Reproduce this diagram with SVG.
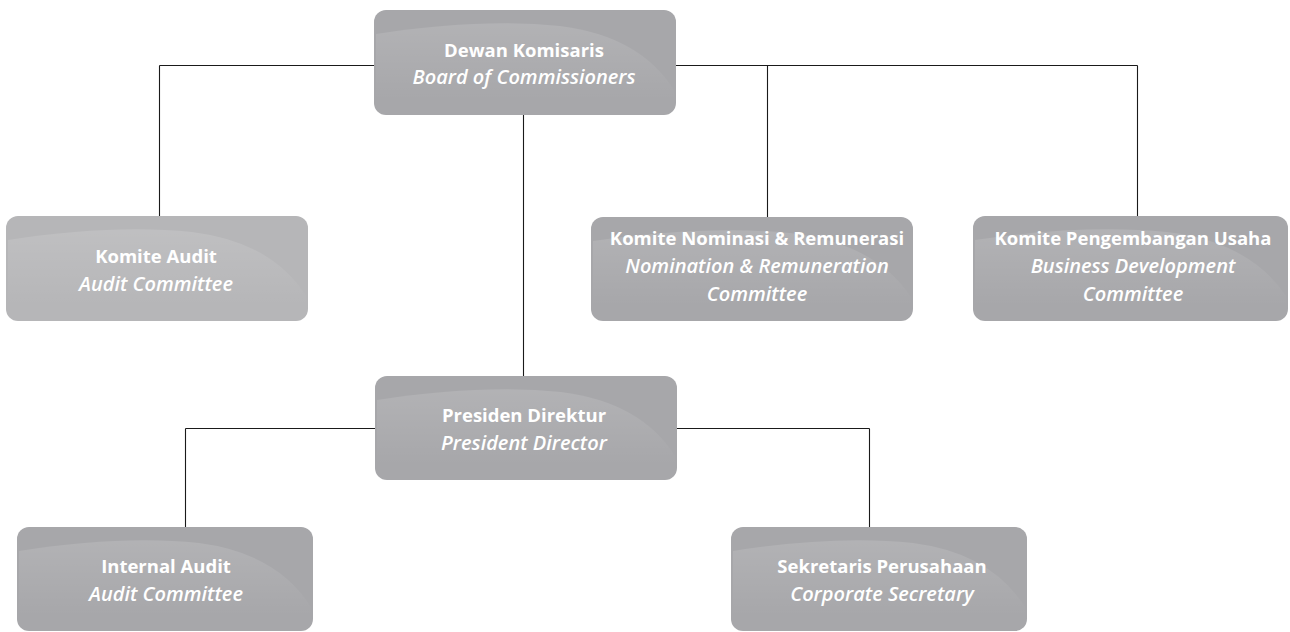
<svg xmlns="http://www.w3.org/2000/svg" width="1290" height="632" viewBox="0 0 1290 632">
<defs>
<style>
.box{fill:#a7a7aa}
.box.light{fill:#b6b6b8}
.gloss{fill:url(#g)}
.t{font-family:"Open Sans","Noto Sans","Liberation Sans",sans-serif;fill:#ffffff;text-anchor:middle}
.b{font-weight:700;font-size:18.5px}
.i{font-style:italic;font-weight:600;font-size:20px}
.ln{stroke:#1a1a1a;stroke-width:1.1;fill:none}
</style>
<linearGradient id="g" x1="0" y1="0" x2="0" y2="1">
<stop offset="0" stop-color="#ffffff" stop-opacity="0.13"/>
<stop offset="1" stop-color="#ffffff" stop-opacity="0"/>
</linearGradient>
</defs>
<rect width="1290" height="632" fill="#ffffff"/>
<g id="connectors">
<path class="ln" d="M159.5 65.5H1137.5M159.5 65.5V216M767.5 65.5V217M1137.5 65.5V216M523.5 115V376"/>
<path class="ln" d="M185.5 428.5H869.5M185.5 428.5V527M869.5 428.5V527"/>
</g>
<g id="board">
<rect class="box" x="374" y="10" width="302" height="105" rx="12"/>
<path class="gloss" d="M376 34Q480 18 560 26Q640 36 674 90V100H376Z"/>
<text class="t b" x="524" y="57">Dewan Komisaris</text>
<text class="t i" x="524" y="84">Board of Commissioners</text>
</g>
<g id="audit-committee">
<rect class="box light" x="6" y="216" width="302" height="105" rx="12"/>
<path class="gloss" d="M8 240Q112 224 192 232Q272 242 306 296V306H8Z"/>
<text class="t b" x="156" y="263">Komite Audit</text>
<text class="t i" x="156" y="291">Audit Committee</text>
</g>
<g id="nomination">
<rect class="box" x="591" y="217" width="322" height="104" rx="12"/>
<path class="gloss" d="M593 241Q704 225 790 233Q875 243 911 297V306H593Z"/>
<text class="t b" x="757" y="245">Komite Nominasi &amp; Remunerasi</text>
<text class="t i" x="757" y="273">Nomination &amp; Remuneration</text>
<text class="t i" x="757" y="301">Committee</text>
</g>
<g id="business">
<rect class="box" x="973" y="216" width="315" height="105" rx="12"/>
<path class="gloss" d="M975 240Q1083 224 1167 232Q1250 242 1286 296V306H975Z"/>
<text class="t b" x="1133" y="245">Komite Pengembangan Usaha</text>
<text class="t i" x="1133" y="273">Business Development</text>
<text class="t i" x="1133" y="301">Committee</text>
</g>
<g id="president">
<rect class="box" x="375" y="376" width="302" height="104" rx="12"/>
<path class="gloss" d="M377 400Q481 384 561 392Q641 402 675 456V465H377Z"/>
<text class="t b" x="524" y="422">Presiden Direktur</text>
<text class="t i" x="524" y="450">President Director</text>
</g>
<g id="internal-audit">
<rect class="box" x="17" y="527" width="296" height="104" rx="12"/>
<path class="gloss" d="M19 551Q121 535 199 543Q277 553 311 607V616H19Z"/>
<text class="t b" x="166" y="573">Internal Audit</text>
<text class="t i" x="166" y="601">Audit Committee</text>
</g>
<g id="corporate-secretary">
<rect class="box" x="731" y="527" width="296" height="104" rx="12"/>
<path class="gloss" d="M733 551Q835 535 913 543Q991 553 1025 607V616H733Z"/>
<text class="t b" x="882" y="573">Sekretaris Perusahaan</text>
<text class="t i" x="882" y="601">Corporate Secretary</text>
</g>
</svg>
